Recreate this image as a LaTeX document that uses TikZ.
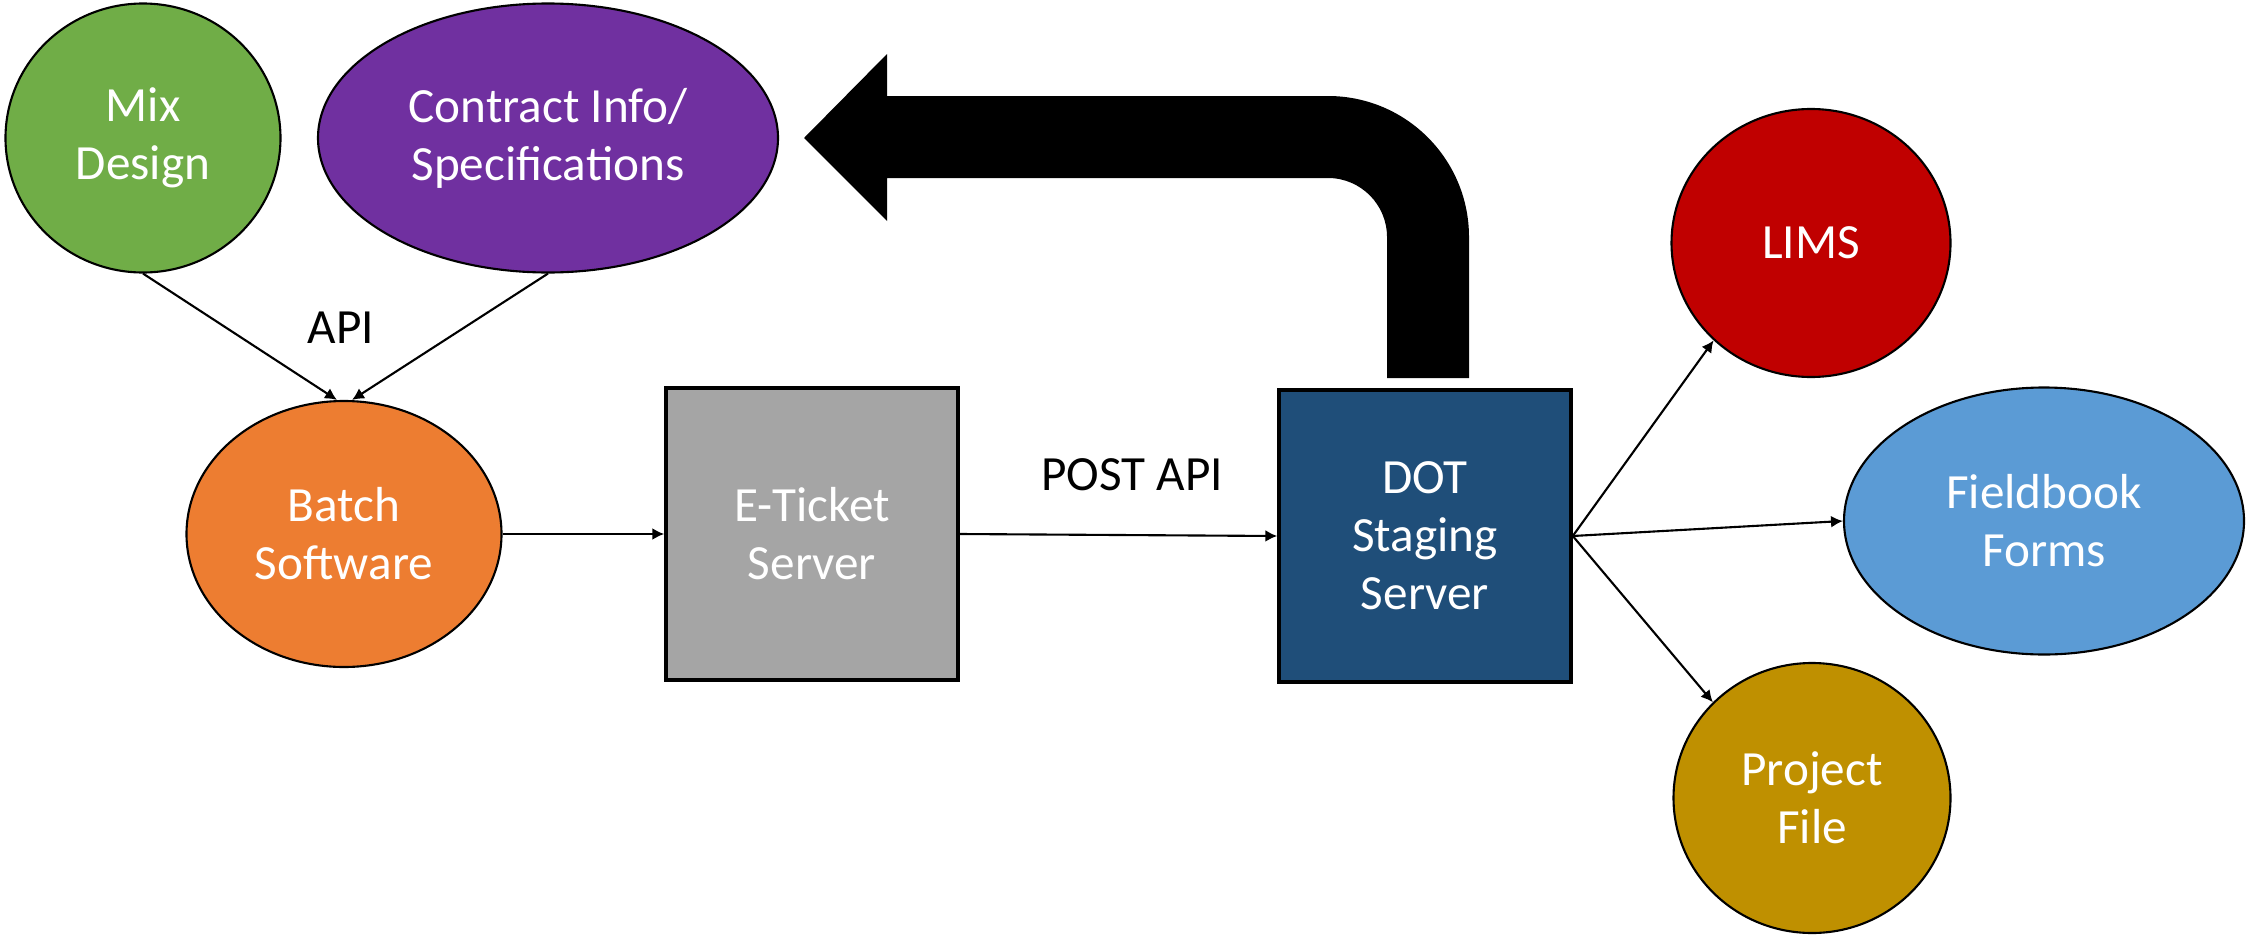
\documentclass[tikz,border=0pt]{standalone}
\usepackage{fontspec}
\setmainfont{Carlito}
\usetikzlibrary{shapes.geometric, arrows.meta}

\definecolor{mixgreen}{HTML}{70AD47}
\definecolor{specpurple}{HTML}{7030A0}
\definecolor{batchorange}{HTML}{ED7D31}
\definecolor{ticketgray}{HTML}{A5A5A5}
\definecolor{dotblue}{HTML}{1F4E79}
\definecolor{limsred}{HTML}{C00000}
\definecolor{formblue}{HTML}{5B9BD5}
\definecolor{filegold}{HTML}{BF9000}

\begin{document}
\begin{tikzpicture}[>={Latex[length=3.4pt, width=3.4pt]}, line width=0.6pt,
    bubble/.style={draw, ellipse, inner sep=0pt, align=center, text=white, font=\fontsize{14}{16.5}\selectfont},
    serverbox/.style={draw, rectangle, line width=1pt, inner sep=0pt, minimum width=2.92cm, minimum height=2.92cm, align=center, text=white, font=\fontsize{14}{16.5}\selectfont},
    tag/.style={inner sep=0pt, font=\fontsize{14}{16.5}\selectfont}]

\useasboundingbox (0, 0) rectangle (22.46, -9.38);

\node (mix)      at (1.43, -1.38)  [bubble, fill=mixgreen,    minimum width=2.75cm, minimum height=2.69cm] {Mix\\Design};
\node (contract) at (5.48, -1.38)  [bubble, fill=specpurple,  minimum width=4.60cm, minimum height=2.69cm] {Contract Info/\\Specifications};
\node (batch)    at (3.44, -5.34)  [bubble, fill=batchorange, minimum width=3.15cm, minimum height=2.66cm] {Batch\\Software};

\node (eticket)  at (8.12, -5.34)  [serverbox, fill=ticketgray] {E-Ticket\\Server};
\node (staging)  at (14.25, -5.36) [serverbox, fill=dotblue] {DOT\\Staging\\Server};

\node (lims)      at (18.11, -2.43) [bubble, fill=limsred,  minimum width=2.79cm, minimum height=2.68cm] {LIMS};
\node (fieldbook) at (20.44, -5.21) [bubble, fill=formblue, minimum width=4.00cm, minimum height=2.67cm] {Fieldbook\\Forms};
\node (project)   at (18.12, -7.98) [bubble, fill=filegold, minimum width=2.77cm, minimum height=2.70cm] {Project\\File};

\node (api)     at (3.41, -3.28)  [tag] {API};
\node (postapi) at (11.32, -4.75) [tag] {POST API};

\path[->] (mix.south)      edge ([xshift=-0.07cm]batch.north);
\path[->] (contract.south) edge ([xshift=0.08cm]batch.north);

\path[->] (batch.east)   edge (eticket.west);
\path[->] (eticket.east) edge (staging.west);

\path[->] (staging.east) edge (lims.225);
\path[->] (staging.east) edge (fieldbook.west);
\path[->] (staging.east) edge (project.136);

% return arrow over the top
\fill (8.04, -1.38) -- (8.87, -0.54) -- (8.87, -0.96) -- (13.28, -0.96)
      arc[start angle=90, end angle=0, radius=1.41] -- (14.69, -3.78) -- (13.87, -3.78) -- (13.87, -2.37)
      arc[start angle=0, end angle=90, radius=0.59] -- (8.87, -1.78) -- (8.87, -2.21) -- cycle;

\end{tikzpicture}
\end{document}
